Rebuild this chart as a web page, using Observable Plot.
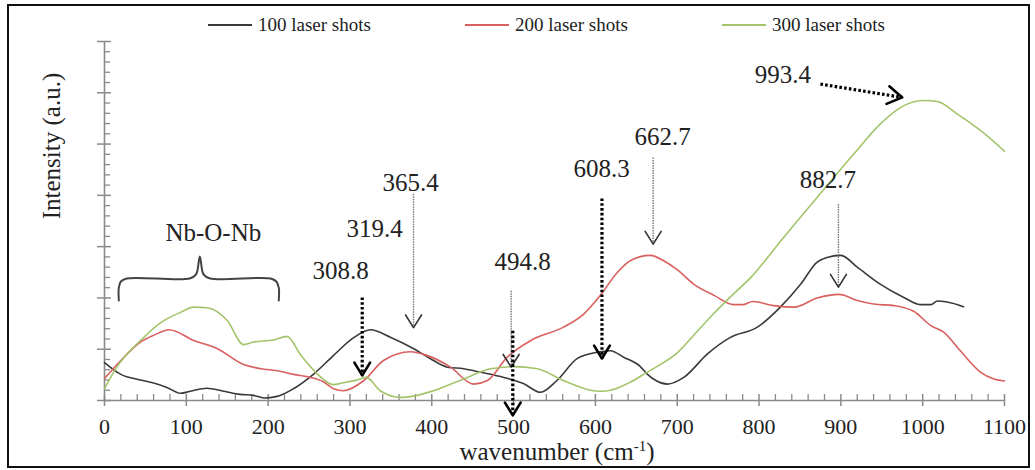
<!DOCTYPE html>
<html><head><meta charset="utf-8">
<script src="https://cdn.jsdelivr.net/npm/d3@7"></script>
<script src="https://cdn.jsdelivr.net/npm/@observablehq/plot@0.6"></script>
<style>
body{margin:0;background:#fff;}
#wrap{position:relative;width:1035px;height:470px;overflow:hidden;font-family:"Liberation Serif","Times New Roman",serif;color:#222;}
#frame{position:absolute;left:7px;top:4px;width:1019px;height:460px;border:2.5px solid #111;pointer-events:none;}
.leg{position:absolute;top:13px;display:flex;align-items:center;font-size:19px;white-space:nowrap;line-height:24px;}
.leg .sw{display:inline-block;width:44px;height:0;border-top:2px solid;margin-right:6px;}
#xlab{position:absolute;left:557px;top:452px;transform:translate(-50%,-50%);font-size:25px;white-space:nowrap;line-height:26px;}
#xlab sup{font-size:15px;vertical-align:9px;line-height:0;}
#ylab{position:absolute;left:52px;top:146px;transform:translate(-50%,-50%) rotate(-90deg);font-size:25px;white-space:nowrap;}
#chart{position:absolute;left:0;top:0;}
#chart svg text{font-family:"Liberation Serif","Times New Roman",serif;}
</style></head>
<body>
<div id="wrap">
  <div id="chart"></div>
  <div id="legend"></div>
  <div id="xlab">wavenumber (cm<sup>-1</sup>)</div>
  <div id="ylab">Intensity (a.u.)</div>
  <div id="frame"></div>
</div>
<script>
// ---- data ----
const seriesNames = ["100 laser shots", "200 laser shots", "300 laser shots"];
const seriesColors = ["#3a3a3a", "#d9605e", "#a3c46a"];

const shots100 = [[0,0.74],[20,0.51],[44,0.40],[60,0.34],[77,0.25],[93,0.14],[105,0.18],[125,0.24],[146,0.18],[166,0.12],[182,0.10],[195,0.05],[211,0.08],[231,0.23],[256,0.52],[280,0.88],[305,1.23],[325,1.38],[350,1.23],[378,1.01],[398,0.82],[419,0.65],[439,0.62],[460,0.55],[488,0.45],[512,0.33],[533,0.16],[553,0.39],[578,0.82],[602,0.94],[618,0.97],[635,0.84],[655,0.66],[663,0.52],[675,0.38],[688,0.32],[708,0.45],[737,0.91],[765,1.23],[798,1.43],[826,1.82],[851,2.27],[871,2.70],[883,2.79],[900,2.83],[920,2.60],[948,2.27],[977,2.01],[997,1.87],[1010,1.87],[1018,1.94],[1030,1.92],[1050,1.83]];

const shots200 = [[0,0.43],[20,0.78],[44,1.14],[60,1.27],[79,1.38],[109,1.17],[138,1.01],[170,0.70],[191,0.62],[211,0.58],[231,0.51],[252,0.45],[268,0.36],[280,0.23],[292,0.19],[317,0.39],[341,0.78],[374,0.95],[394,0.88],[423,0.65],[451,0.32],[468,0.39],[492,0.84],[521,1.17],[561,1.43],[586,1.69],[606,2.05],[627,2.50],[643,2.73],[667,2.83],[684,2.72],[700,2.55],[720,2.27],[745,2.05],[769,1.87],[781,1.87],[792,1.93],[818,1.85],[843,1.82],[871,2.00],[898,2.07],[920,1.95],[940,1.88],[965,1.85],[989,1.74],[1010,1.46],[1026,1.33],[1046,0.97],[1071,0.55],[1087,0.42],[1100,0.38]];

const shots300 = [[0,0.23],[15,0.65],[44,1.17],[68,1.51],[93,1.72],[109,1.82],[125,1.81],[150,1.56],[170,1.09],[182,1.14],[207,1.18],[223,1.25],[240,0.88],[260,0.52],[280,0.31],[296,0.36],[309,0.40],[320,0.45],[337,0.19],[362,0.06],[382,0.10],[402,0.19],[439,0.42],[472,0.62],[500,0.66],[529,0.62],[561,0.39],[598,0.19],[610,0.18],[643,0.36],[660,0.52],[675,0.66],[700,0.93],[724,1.34],[745,1.70],[765,2.02],[790,2.40],[830,3.18],[871,3.96],[916,4.81],[948,5.39],[977,5.75],[1001,5.85],[1018,5.83],[1042,5.59],[1071,5.26],[1100,4.86]];

const xTickValues = [0,100,200,300,400,500,600,700,800,900,1000,1100];
const yTickValues = [0,1,2,3,4,5,6,7];

const peakLabels = [
  {x:288.5, y:2.53, text:"308.8"},
  {x:330,   y:3.35, text:"319.4"},
  {x:374,   y:4.25, text:"365.4"},
  {x:511,   y:2.71, text:"494.8"},
  {x:607.5, y:4.52, text:"608.3"},
  {x:682,   y:5.13, text:"662.7"},
  {x:884,   y:4.29, text:"882.7"},
  {x:829,   y:6.34, text:"993.4"},
  {x:133,   y:3.27, text:"Nb-O-Nb"}
];
const thickArrows = [
  {x1:315, y1:2.01, x2:315, y2:0.49},
  {x1:499, y1:1.36, x2:499, y2:-0.29},
  {x1:608, y1:3.94, x2:608, y2:0.82},
  {x1:875, y1:6.17, x2:975, y2:5.91}
];
const thinArrows = [
  {x1:377.7, y1:4.03, x2:377.7, y2:1.42},
  {x1:497,   y1:2.14, x2:497,   y2:0.65},
  {x1:670.6, y1:4.74, x2:670.6, y2:3.05},
  {x1:897,   y1:3.83, x2:897,   y2:2.21}
];
const braceShape = [[17.5,1.95],[17.5,2.2],[20,2.32],[27,2.38],[104,2.38],[112,2.46],[116.5,2.81],[121,2.46],[129,2.38],[203,2.38],[210,2.32],[213,2.2],[213,1.95]];

// ---- layout ----
const W = 1035, H = 470, mL = 104, mR = 31, mT = 41, mB = 70;
const xDomain = [0, 1100], yDomain = [0, 7];
const kx = (W - mL - mR) / (xDomain[1] - xDomain[0]);
const ky = (H - mT - mB) / (yDomain[1] - yDomain[0]);
const innerW = W - mL - mR, innerH = H - mT - mB;
const serif = "Liberation Serif";

const xMinor = d3.range(0, 1101, 20).filter(v => v % 100 !== 0);
const yMinor = d3.range(0, 7.001, 0.2).filter(v => Math.abs(v - Math.round(v)) > 1e-6);

function head(a, id, L, half) {
  const dxp = (a.x2 - a.x1) * kx, dyp = -(a.y2 - a.y1) * ky;
  const th = Math.atan2(dyp, dxp);
  const pts = [-1, 1].map(s => {
    const ang = th + Math.PI + s * half;
    return {id, x: a.x2 + L * Math.cos(ang) / kx, y: a.y2 - L * Math.sin(ang) / ky};
  });
  return [pts[0], {id, x: a.x2, y: a.y2}, pts[1]];
}
const thickHeads = thickArrows.flatMap((a, i) => head(a, "k" + i, i === 3 ? 17 : 15, 0.55));
const thinHeads = thinArrows.flatMap((a, i) => head(a, "t" + i, 15, 0.56));

const axisGray = "#8a8a8a";
const series = [shots100, shots200, shots300];

const chart = Plot.plot({
  width: W, height: H,
  marginLeft: mL, marginRight: mR, marginTop: mT, marginBottom: mB,
  style: {fontFamily: serif, fontSize: "22px", color: "#222", background: "transparent", overflow: "visible"},
  x: {domain: xDomain},
  y: {domain: yDomain, axis: null},
  marks: [
    Plot.tickX(xMinor, {x: d => d, insetTop: innerH - 6, stroke: axisGray, strokeWidth: 1.3}),
    Plot.tickX(xTickValues, {x: d => d, insetTop: innerH - 6, insetBottom: -6, stroke: axisGray, strokeWidth: 1.5}),
    Plot.tickY(yMinor, {y: d => d, insetRight: innerW - 6, stroke: axisGray, strokeWidth: 1.3}),
    Plot.tickY(yTickValues, {y: d => d, insetLeft: -7, insetRight: innerW - 7, stroke: axisGray, strokeWidth: 1.5}),
    Plot.ruleY([0], {stroke: axisGray, strokeWidth: 1.6}),
    Plot.ruleX([0], {stroke: axisGray, strokeWidth: 1.6}),
    Plot.axisX({ticks: xTickValues, tickFormat: d => String(d), tickSize: 0, tickPadding: 18, label: null, fill: "#222", fontSize: 22, fontFamily: serif}),
    ...series.map((s, i) => Plot.line(s, {x: d => d[0], y: d => d[1], stroke: seriesColors[i], strokeWidth: 1.6, curve: "monotone-x"})),
    Plot.line(braceShape, {x: d => d[0], y: d => d[1], stroke: "#444", strokeWidth: 2, strokeLinejoin: "round", curve: "catmull-rom"}),
    Plot.link(thinArrows, {x1: "x1", y1: "y1", x2: "x2", y2: "y2", stroke: "#777", strokeWidth: 1.4, strokeDasharray: "1.5,1"}),
    Plot.line(thinHeads, {x: "x", y: "y", z: "id", stroke: "#333", strokeWidth: 1.6}),
    Plot.link(thickArrows, {x1: "x1", y1: "y1", x2: "x2", y2: "y2", stroke: "#000", strokeWidth: 3.2, strokeDasharray: "2.6,2.2"}),
    Plot.line(thickHeads, {x: "x", y: "y", z: "id", stroke: "#000", strokeWidth: 2.6}),
    Plot.text(peakLabels, {x: "x", y: "y", text: "text", fontSize: 25, fontFamily: serif, fill: "#222"})
  ]
});
document.getElementById("chart").appendChild(chart);

const legendLeft = [208, 465, 722];
const leg = document.getElementById("legend");
seriesNames.forEach((n, i) => {
  const d = document.createElement("div");
  d.className = "leg";
  d.style.left = legendLeft[i] + "px";
  d.innerHTML = `<span class="sw" style="border-color:${seriesColors[i]}"></span><span>${n}</span>`;
  leg.appendChild(d);
});
</script>
</body></html>
